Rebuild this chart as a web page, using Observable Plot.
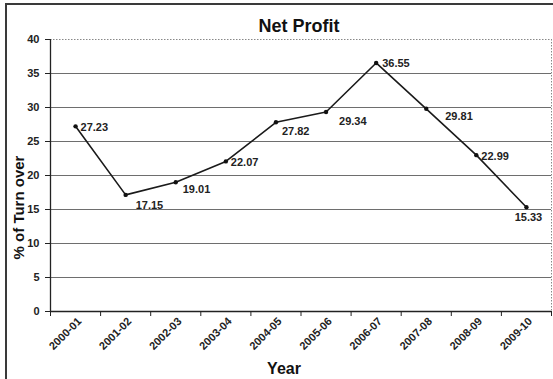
<!DOCTYPE html>
<html><head><meta charset="utf-8">
<script src="https://cdn.jsdelivr.net/npm/d3@7"></script>
<script src="https://cdn.jsdelivr.net/npm/@observablehq/plot@0.6"></script>
<style>
body{margin:0;background:#fff;}
#wrap{position:relative;width:553px;height:379px;overflow:hidden;background:#fff;}
#border{position:absolute;left:5px;top:3px;right:-10px;bottom:-10px;border:2px solid #3a3a3a;pointer-events:none;}
</style></head><body><div id="wrap"></div>
<script>
const years = ["2000-01","2001-02","2002-03","2003-04","2004-05","2005-06","2006-07","2007-08","2008-09","2009-10"];
const netProfit = [27.23, 17.15, 19.01, 22.07, 27.82, 29.34, 36.55, 29.81, 22.99, 15.33];
const yTicks = [0, 5, 10, 15, 20, 25, 30, 35, 40];
const title = "Net Profit";
const yLabel = "% of Turn over";
const xLabel = "Year";

const data = years.map((year, i) => ({year, i, value: netProfit[i]}));
// per-label nudges (style only): [dx, dy, anchor]
const labelNudge = [[5,1,"start"],[10,11,"start"],[7,7,"start"],[5,1,"start"],[6,9,"start"],[13,9,"start"],[6,1,"start"],[19,8,"start"],[5,1,"start"],[2,10,"middle"]];

const xc = d => d.i + 0.5;
const labelFont = {fontSize: 11, fontWeight: "bold", fill: "#222"};

const chart = Plot.plot({
  width: 553, height: 379,
  marginLeft: 50, marginRight: 2, marginTop: 39, marginBottom: 68,
  style: {fontFamily: "'Liberation Sans', Arial, sans-serif", background: "transparent", color: "#222"},
  x: {type: "linear", domain: [0, years.length], axis: null},
  y: {domain: [0, 40], axis: null},
  marks: [
    Plot.ruleY(yTicks.filter(t => t > 0 && t < 40), {stroke: "#6e6e6e", strokeWidth: 1.2}),
    Plot.ruleY([40], {stroke: "#888", strokeDasharray: "1.5,1.5"}),
    Plot.ruleX([years.length], {stroke: "#888", strokeDasharray: "1.5,1.5"}),
    Plot.axisY({ticks: yTicks, tickSize: 5, tickPadding: 6, fontSize: 11, fontWeight: "bold", label: null, stroke: "#222"}),
    Plot.axisX({ticks: d3.range(years.length + 1), tickSize: 5, tickFormat: () => "", label: null, stroke: "#222"}),
    Plot.axisX({ticks: years.map((_, i) => i + 0.5), tickSize: 0, tickPadding: 8, tickRotate: -45, dx: 4,
      tickFormat: d => years[Math.floor(d)], fontSize: 11, fontWeight: "bold", label: null}),
    Plot.ruleX([0], {stroke: "#222", strokeWidth: 1.3}),
    Plot.ruleY([0], {stroke: "#222", strokeWidth: 1.3}),
    Plot.line(data, {x: xc, y: "value", stroke: "#1a1a1a", strokeWidth: 1.6}),
    Plot.dot(data, {x: xc, y: "value", r: 2.2, fill: "#111"}),
    ...data.map((d, k) => Plot.text([d], {x: xc, y: "value", text: v => v.value.toFixed(2),
      dx: labelNudge[k][0], dy: labelNudge[k][1], textAnchor: labelNudge[k][2], ...labelFont})),
    Plot.text([title], {frameAnchor: "top", lineAnchor: "middle", textAnchor: "middle", dx: -2, dy: -13, fontSize: 18, fontWeight: "bold", fill: "#111"}),
    Plot.text([yLabel], {frameAnchor: "left", lineAnchor: "middle", textAnchor: "middle", rotate: -90, dx: -31, dy: 32, fontSize: 15, fontWeight: "bold", fill: "#111"}),
    Plot.text([xLabel], {frameAnchor: "bottom", lineAnchor: "middle", textAnchor: "middle", dx: -17, dy: 57, fontSize: 16, fontWeight: "bold", fill: "#111"})
  ]
});
const wrap = document.getElementById("wrap");
wrap.appendChild(chart);
const b = document.createElement("div"); b.id = "border"; wrap.appendChild(b);
chart.style.position = "absolute"; chart.style.left = "0"; chart.style.top = "0";
</script></body></html>
